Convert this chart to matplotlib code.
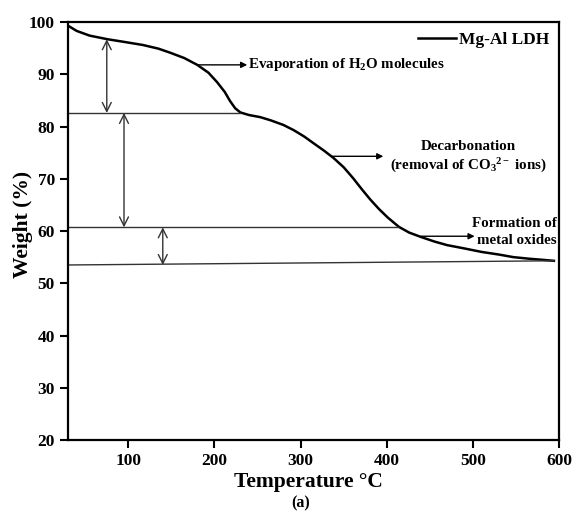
import matplotlib
matplotlib.use('Agg')
import matplotlib.pyplot as plt

plt.rcParams['font.family'] = ['Liberation Serif', 'DejaVu Serif']
plt.rcParams['font.weight'] = 'bold'
plt.rcParams['mathtext.fontset'] = 'custom'
plt.rcParams['mathtext.rm'] = 'Liberation Serif:bold'
plt.rcParams['mathtext.it'] = 'Liberation Serif:bold'
plt.rcParams['mathtext.bf'] = 'Liberation Serif:bold'

# TGA curve
temp = [30, 40, 55, 76, 95, 117, 135, 149, 165, 180, 193, 203, 212, 218, 224,
        230, 240, 253, 265, 280, 292, 304, 315, 327, 338, 350, 361, 371, 381,
        391, 401, 414, 426, 439, 455, 470, 489, 510, 530, 547, 565, 580, 594]
weight = [99.3, 98.3, 97.4, 96.7, 96.2, 95.6, 94.9, 94.1, 93.1, 91.8, 90.3,
          88.5, 86.6, 84.9, 83.5, 82.7, 82.2, 81.8, 81.2, 80.3, 79.3, 78.1,
          76.8, 75.4, 74.0, 72.2, 70.1, 68.0, 66.0, 64.2, 62.6, 60.8, 59.7,
          58.9, 58.0, 57.3, 56.7, 56.0, 55.5, 55.0, 54.7, 54.5, 54.3]

# step levels (horizontal guide lines)
level_x = [[30, 230], [30, 413], [30, 594]]
level_y = [[82.6, 82.6], [60.7, 60.7], [53.5, 54.3]]

# double arrows between levels
span_x = [75, 95, 140]
span_top = [96.7, 82.6, 60.7]
span_bot = [82.6, 60.7, 53.5]

fig = plt.figure(figsize=(5.73, 5.12), dpi=100)
ax = fig.add_axes([0.1187, 0.1406, 0.857, 0.8164])

ax.plot(temp, weight, color='black', lw=1.8, label='Mg-Al LDH')

for xs, ys in zip(level_x, level_y):
    ax.plot(xs, ys, color='#333333', lw=1.0)

for x, t, b in zip(span_x, span_top, span_bot):
    ax.annotate('', xy=(x, b), xytext=(x, t),
                arrowprops=dict(arrowstyle='<->', color='#333333', lw=1.0,
                                mutation_scale=16, shrinkA=0, shrinkB=0))

fs = 10.8
arr = dict(arrowstyle='-|>', color='black', lw=1.0, mutation_scale=9,
           shrinkA=0, shrinkB=0)
ax.annotate('', xy=(238, 91.8), xytext=(180, 91.8), arrowprops=arr)
ax.text(239, 91.8, 'Evaporation of H$_2$O molecules', fontsize=fs,
        fontweight='bold', va='center', ha='left')

ax.annotate('', xy=(396, 74.3), xytext=(335, 74.3), arrowprops=arr)
ax.text(495, 76.2, 'Decarbonation', fontsize=fs, fontweight='bold',
        ha='center', va='center')
ax.text(495, 72.5, '(removal of CO$_3$$^{2-}$ ions)', fontsize=fs,
        fontweight='bold', ha='center', va='center')

ax.annotate('', xy=(502, 59.0), xytext=(440, 59.0), arrowprops=arr)
ax.text(597, 61.4, 'Formation of', fontsize=fs, fontweight='bold',
        ha='right', va='center')
ax.text(597, 58.1, 'metal oxides', fontsize=fs, fontweight='bold',
        ha='right', va='center')

ax.set_xlim(30, 600)
ax.set_ylim(20, 100)
ax.set_xticks([100, 200, 300, 400, 500, 600])
ax.set_yticks([20, 30, 40, 50, 60, 70, 80, 90, 100])
ax.tick_params(direction='out', length=6, width=1.5, labelsize=12.5,
               top=False, right=False)
for lab in ax.get_xticklabels() + ax.get_yticklabels():
    lab.set_fontweight('bold')
for sp in ax.spines.values():
    sp.set_linewidth(1.6)

ax.set_xlabel('Temperature °C', fontsize=15.5, fontweight='bold')
ax.xaxis.set_label_coords(0.49, -0.076)
ax.set_ylabel('Weight (%)', fontsize=15.5, fontweight='bold')
ax.yaxis.set_label_coords(-0.072, 0.515)
fig.text(0.524, 0.002, '(a)', fontsize=11.5, fontweight='bold', ha='center',
         va='bottom')

leg = ax.legend(loc='upper right', frameon=False, fontsize=12.5,
                handlelength=2.2, borderaxespad=0.15, handletextpad=0.2)
for t in leg.get_texts():
    t.set_fontweight('bold')

fig.savefig('out.png', dpi=100)
